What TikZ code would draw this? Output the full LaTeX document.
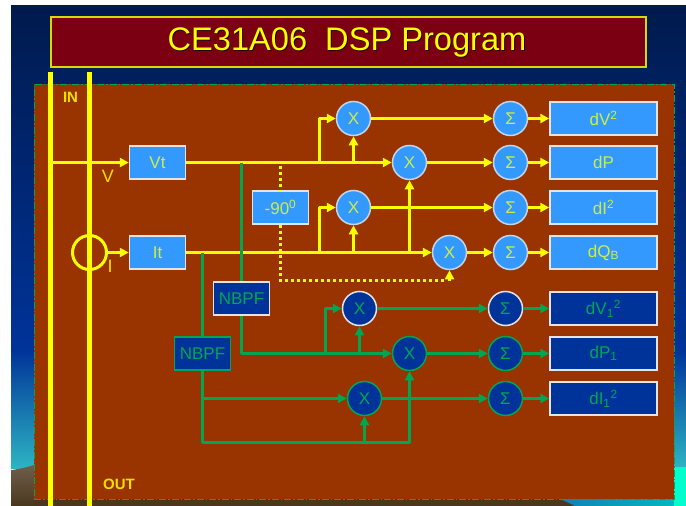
\documentclass[tikz,border=0pt]{standalone}
\usepackage{fontspec}
\setmainfont{Liberation Sans}
\usetikzlibrary{arrows.meta,shadings}
\definecolor{ylw}{HTML}{FFFF00}
\definecolor{grn}{HTML}{00A651}
\definecolor{txtY}{HTML}{CCEE44}
\definecolor{lblue}{HTML}{3399FF}
\definecolor{dblue}{HTML}{003399}
\definecolor{rust}{HTML}{993300}
\definecolor{wine}{HTML}{7A0012}
\definecolor{edge}{HTML}{E4E4E4}
\definecolor{navy}{HTML}{001A4D}
\definecolor{teal1}{HTML}{2DB4C3}
\definecolor{aqua}{HTML}{00FFCC}
\definecolor{grnd1}{HTML}{6E5F4B}
\definecolor{grnd2}{HTML}{4B371E}
\definecolor{sea1}{HTML}{1078B4}
\definecolor{sea2}{HTML}{00BEBE}
\tikzset{
  fs/.style={font=\fontsize{#1}{#1}\selectfont},
  tipY/.style={-{Triangle[length=9pt,width=9pt]}},
  wy/.style={draw=ylw,line width=2.6pt,line join=round},
  wg/.style={draw=grn,line width=2.6pt,line join=round},
  ay/.style={wy,tipY},
  ag/.style={wg,tipY},
  dots/.style={draw=ylw,line width=3pt,dash pattern=on 3pt off 3pt},
  bar/.style={draw=ylw,line width=5pt},
  lbox/.style={draw=edge,line width=1.5pt,fill=lblue,text=txtY,fs=17,inner sep=0pt,minimum height=33pt},
  dbox/.style={draw=edge,line width=1.5pt,fill=dblue,text=grn,fs=17,inner sep=0pt,minimum height=33pt},
  gbox/.style={dbox,draw=grn},
  outw/.style={minimum width=107pt},
  inw/.style={minimum width=56pt},
  lcirc/.style={circle,draw=edge!80!lblue,line width=1.5pt,fill=lblue,text=txtY,fs=17,inner sep=0pt,minimum size=34pt},
  dcirc/.style={circle,draw=edge,line width=1.5pt,fill=dblue,text=grn,fs=17,inner sep=0pt,minimum size=34pt},
  gcirc/.style={dcirc,draw=grn},
  lab/.style={text=ylw!85!rust,fs=#1,inner sep=0pt},
  blab/.style={text=ylw!85!rust,font=\fontsize{#1}{#1}\selectfont\bfseries,inner sep=0pt},
}
\begin{document}
\begin{tikzpicture}[x=1pt,y=-1pt]
\useasboundingbox (0,0) rectangle (686,506);
\fill[white] (0,0) rectangle (686,506);
% background
\shade[top color=navy,bottom color=dblue] (11,5) rectangle (686,350);
\shade[top color=dblue,bottom color=teal1] (11,350) rectangle (686,468);
\shade[left color=sea1,right color=sea2] (540,468) rectangle (686,506);
\fill[aqua] (674,467) rectangle (686,506);
\shade[top color=grnd1,bottom color=grnd2] (11,470) .. controls (20,469) and (28,467) .. (34,465) -- (34,506) -- (11,506) -- cycle;
\fill[grnd2] (34,499) -- (560,499) -- (575,506) -- (34,506) -- cycle;
% title
\node[name=title,draw=ylw!85!black,line width=1.2pt,fill=wine,minimum width=595pt,minimum height=50pt,inner sep=0pt] at (348.5,42) {};
\node[text=black!70!wine,fs=32.6,inner sep=0pt] at (348,43.5) {CE31A06\ \ DSP Program};
\node[text=ylw,fs=32.6,inner sep=0pt] at (347,42.5) {CE31A06\ \ DSP Program};
% panel
\node[name=panel,draw=grn,line width=1pt,fill=rust,dash pattern=on 7pt off 2pt on 1.5pt off 2pt,minimum width=640pt,minimum height=415pt,inner sep=0pt] at (354,291.5) {};
% bars
\coordinate (b1t) at (50.5,72); \coordinate (b1b) at (50.5,506);
\coordinate (b2t) at (89.5,72); \coordinate (b2b) at (89.5,506);
\draw[bar] (b1t) -- (b1b);
\draw[bar] (b2t) -- (b2b);
% nodes
\node[lbox,inw] (Vt) at (157.5,162.5) {Vt};
\node[lbox,inw] (It) at (157.5,252.5) {It};
\node[lbox,inw] (ph) at (280.5,207.5) {-90\textsuperscript{0}};
\node[dbox,minimum width=56pt] (nb1) at (241.5,298.5) {NBPF};
\node[gbox,minimum width=56pt] (nb2) at (202.5,353.5) {NBPF};
\node[lcirc] (x1) at (353.5,118.5) {X};
\node[lcirc] (x2) at (409.5,162.5) {X};
\node[lcirc] (x3) at (353.5,207.5) {X};
\node[lcirc] (x4) at (449.5,252.5) {X};
\node[lcirc] (s1) at (510.5,118.5) {Σ};
\node[lcirc] (s2) at (510.5,162.5) {Σ};
\node[lcirc] (s3) at (510.5,207.5) {Σ};
\node[lcirc] (s4) at (510.5,252.5) {Σ};
\node[lbox,outw] (o1) at (603.5,118.5) {dV\textsuperscript{2}};
\node[lbox,outw] (o2) at (603.5,162.5) {dP};
\node[lbox,outw] (o3) at (603.5,207.5) {dI\textsuperscript{2}};
\node[lbox,outw] (o4) at (603.5,252.5) {dQ\textsubscript{B}};
\node[dcirc] (x5) at (359.5,308.5) {X};
\node[gcirc] (x6) at (409.5,353.5) {X};
\node[gcirc] (x7) at (364.5,398.5) {X};
\node[dcirc] (s5) at (505.5,308.5) {Σ};
\node[gcirc] (s6) at (505.5,353.5) {Σ};
\node[gcirc] (s7) at (505.5,398.5) {Σ};
\node[dbox,outw] (o5) at (603.5,308.5) {dV\textsubscript{1}\textsuperscript{2}};
\node[dbox,outw] (o6) at (603.5,353.5) {dP\textsubscript{1}};
\node[dbox,outw] (o7) at (603.5,398.5) {dI\textsubscript{1}\textsuperscript{2}};
\node[circle,draw=ylw,line width=3pt,minimum size=34pt,inner sep=0pt] (ct) at (89.5,252.5) {};
% labels
\node[blab=15] (lin) at (70.5,97.5) {IN};
\node[blab=15] (lout) at (119,484.5) {OUT};
\node[lab=18] (lv) at (108,176.5) {V};
\node[lab=18] (li) at (110,266.5) {I};
% yellow connectors
\coordinate (vin) at (b1t |- Vt.west);
\draw[ay] (vin) -- (Vt.west);
\draw[ay] (ct.east) -- (It.west);
\draw[ay] (Vt.east) -- (x2.west);
\coordinate (j1) at (319.5,162.5);
\draw[ay] (j1) |- (x1.west);
\draw[ay] (x1.south |- Vt.east) -- (x1.south);
\draw[ay] (It.east) -- (x4.west);
\coordinate (j2) at (319.5,252.5);
\draw[ay] (j2) |- (x3.west);
\draw[ay] (x3.south |- It.east) -- (x3.south);
\draw[ay] (x2.south |- It.east) -- (x2.south);
\foreach \a/\b in {x1/s1,x2/s2,x3/s3,x4/s4,s1/o1,s2/o2,s3/o3,s4/o4}{\draw[ay] (\a) -- (\b);}
% green connectors
\draw[wg] (nb1.north |- Vt.east) -- (nb1.north);
\draw[wg] (nb2.north |- It.east) -- (nb2.north);
\coordinate (g1) at (nb2.south |- x7.west);
\draw[ag] (nb1.south) |- (x6.west);
\coordinate (j3) at (325.5,353.5);
\draw[ag] (j3) |- (x5.west);
\draw[ag] (x5.south |- x6.west) -- (x5.south);
\draw[ag] (nb2.south) |- (x7.west);
\coordinate (g2) at (202.5,442.5);
\draw[ag] (g1) -- (g2) -| (x6.south);
\draw[ag] (x7.south |- g2) -- (x7.south);
\foreach \a/\b in {x5/s5,x6/s6,x7/s7,s5/o5,s6/o6,s7/o7}{\draw[ag] (\a) -- (\b);}
% dotted
\coordinate (d0) at (ph.north |- Vt.east);
\draw[dots] ([yshift=-3pt]d0) -- (ph.north);
\coordinate (d1) at (280.5,280.5);
\coordinate (d2) at (445,280.5);
\draw[dots] (ph.south) -- (ph.south |- d1) -- (d2);
\coordinate (d3) at (x4.south |- d1);
\draw[ay] (d3) -- (x4.south);
\end{tikzpicture}
\end{document}
